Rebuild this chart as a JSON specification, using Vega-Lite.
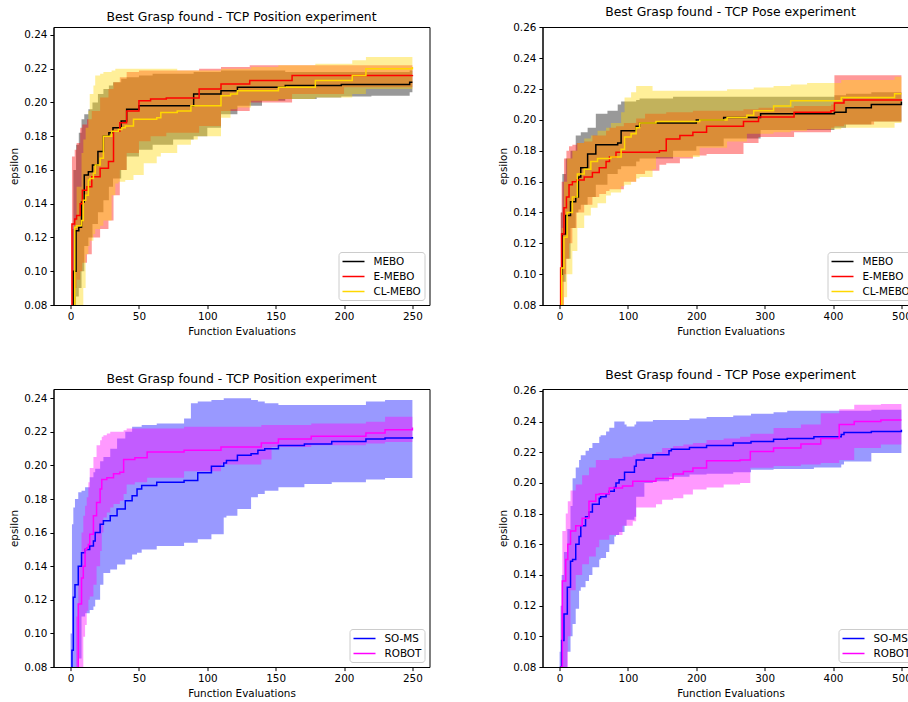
{
"$schema": "https://vega.github.io/schema/vega-lite/v6.json",
"background": "white",
"padding": {"left": 8.5, "top": 5, "right": 0, "bottom": 0},
"config": {
  "font": "DejaVu Sans",
  "view": {"stroke": "black", "strokeWidth": 1},
  "axis": {"labelFont": "DejaVu Sans", "titleFont": "DejaVu Sans", "labelFontSize": 10.4, "titleFontSize": 10.4, "titleFontWeight": "normal", "tickSize": 3.6, "labelPadding": 3, "titlePadding": 4, "domainColor": "black", "tickColor": "black", "labelColor": "black", "titleColor": "black", "grid": false},
  "title": {"font": "DejaVu Sans", "fontSize": 12.4, "fontWeight": "normal", "color": "black", "offset": 4, "frame": "group"},
  "legend": {"labelFont": "DejaVu Sans", "labelFontSize": 10.4, "labelColor": "black", "symbolType": "M-1,0H3", "symbolSize": 121, "symbolStrokeWidth": 1.5, "labelOffset": 19, "padding": 3, "rowPadding": 3, "strokeColor": "#cccccc", "fillColor": "rgba(255,255,255,0.8)", "cornerRadius": 3}
},
"datasets": {
"A": [
{"m":"MEBO","x":0,"y":0.04,"lo":0.02,"hi":0.07},{"m":"MEBO","x":1,"y":0.075,"lo":0.05,"hi":0.125},{"m":"MEBO","x":2,"y":0.10,"lo":0.075,"hi":0.16},{"m":"MEBO","x":4,"y":0.124,"lo":0.085,"hi":0.175},{"m":"MEBO","x":6,"y":0.126,"lo":0.09,"hi":0.182},{"m":"MEBO","x":8,"y":0.141,"lo":0.10,"hi":0.19},{"m":"MEBO","x":10,"y":0.157,"lo":0.115,"hi":0.193},{"m":"MEBO","x":13,"y":0.159,"lo":0.12,"hi":0.196},{"m":"MEBO","x":16,"y":0.163,"lo":0.128,"hi":0.20},{"m":"MEBO","x":20,"y":0.171,"lo":0.135,"hi":0.205},{"m":"MEBO","x":24,"y":0.180,"lo":0.142,"hi":0.208},{"m":"MEBO","x":28,"y":0.182,"lo":0.15,"hi":0.21},{"m":"MEBO","x":31,"y":0.185,"lo":0.155,"hi":0.212},{"m":"MEBO","x":37,"y":0.189,"lo":0.16,"hi":0.214},{"m":"MEBO","x":41,"y":0.196,"lo":0.168,"hi":0.215},{"m":"MEBO","x":50,"y":0.198,"lo":0.172,"hi":0.216},{"m":"MEBO","x":60,"y":0.198,"lo":0.175,"hi":0.217},{"m":"MEBO","x":75,"y":0.198,"lo":0.178,"hi":0.217},{"m":"MEBO","x":90,"y":0.205,"lo":0.18,"hi":0.218},{"m":"MEBO","x":100,"y":0.205,"lo":0.185,"hi":0.218},{"m":"MEBO","x":110,"y":0.207,"lo":0.193,"hi":0.219},{"m":"MEBO","x":122,"y":0.209,"lo":0.198,"hi":0.219},{"m":"MEBO","x":140,"y":0.209,"lo":0.201,"hi":0.219},{"m":"MEBO","x":157,"y":0.210,"lo":0.202,"hi":0.218},{"m":"MEBO","x":180,"y":0.210,"lo":0.203,"hi":0.218},{"m":"MEBO","x":198,"y":0.2106,"lo":0.2035,"hi":0.218},{"m":"MEBO","x":220,"y":0.2106,"lo":0.204,"hi":0.218},{"m":"MEBO","x":248,"y":0.212,"lo":0.206,"hi":0.219},{"m":"MEBO","x":250,"y":0.212,"lo":0.206,"hi":0.219},
{"m":"E-MEBO","x":0,"y":0.04,"lo":0.02,"hi":0.07},{"m":"E-MEBO","x":1,"y":0.128,"lo":0.08,"hi":0.168},{"m":"E-MEBO","x":3,"y":0.131,"lo":0.09,"hi":0.172},{"m":"E-MEBO","x":4.4,"y":0.133,"lo":0.095,"hi":0.176},{"m":"E-MEBO","x":7,"y":0.14,"lo":0.10,"hi":0.185},{"m":"E-MEBO","x":8.6,"y":0.148,"lo":0.105,"hi":0.187},{"m":"E-MEBO","x":12,"y":0.150,"lo":0.11,"hi":0.19},{"m":"E-MEBO","x":15.5,"y":0.156,"lo":0.12,"hi":0.195},{"m":"E-MEBO","x":21.6,"y":0.161,"lo":0.125,"hi":0.203},{"m":"E-MEBO","x":27.7,"y":0.165,"lo":0.13,"hi":0.208},{"m":"E-MEBO","x":31.4,"y":0.183,"lo":0.145,"hi":0.212},{"m":"E-MEBO","x":36,"y":0.188,"lo":0.16,"hi":0.215},{"m":"E-MEBO","x":41,"y":0.195,"lo":0.17,"hi":0.218},{"m":"E-MEBO","x":50,"y":0.201,"lo":0.177,"hi":0.219},{"m":"E-MEBO","x":58.5,"y":0.202,"lo":0.18,"hi":0.219},{"m":"E-MEBO","x":70,"y":0.2027,"lo":0.182,"hi":0.219},{"m":"E-MEBO","x":94,"y":0.208,"lo":0.186,"hi":0.220},{"m":"E-MEBO","x":110,"y":0.211,"lo":0.195,"hi":0.221},{"m":"E-MEBO","x":131,"y":0.213,"lo":0.20,"hi":0.222},{"m":"E-MEBO","x":162,"y":0.216,"lo":0.205,"hi":0.222},{"m":"E-MEBO","x":200,"y":0.216,"lo":0.209,"hi":0.222},{"m":"E-MEBO","x":250,"y":0.2163,"lo":0.21,"hi":0.222},
{"m":"CL-MEBO","x":0,"y":0.03,"lo":0.02,"hi":0.06},{"m":"CL-MEBO","x":2,"y":0.06,"lo":0.03,"hi":0.10},{"m":"CL-MEBO","x":3,"y":0.126,"lo":0.05,"hi":0.13},{"m":"CL-MEBO","x":4.4,"y":0.127,"lo":0.06,"hi":0.15},{"m":"CL-MEBO","x":8,"y":0.13,"lo":0.075,"hi":0.17},{"m":"CL-MEBO","x":9.3,"y":0.142,"lo":0.09,"hi":0.178},{"m":"CL-MEBO","x":11,"y":0.145,"lo":0.11,"hi":0.185},{"m":"CL-MEBO","x":13,"y":0.154,"lo":0.115,"hi":0.195},{"m":"CL-MEBO","x":14,"y":0.155,"lo":0.118,"hi":0.205},{"m":"CL-MEBO","x":16.7,"y":0.158,"lo":0.122,"hi":0.21},{"m":"CL-MEBO","x":18,"y":0.163,"lo":0.125,"hi":0.216},{"m":"CL-MEBO","x":21.6,"y":0.167,"lo":0.127,"hi":0.217},{"m":"CL-MEBO","x":24,"y":0.18,"lo":0.13,"hi":0.218},{"m":"CL-MEBO","x":30,"y":0.183,"lo":0.145,"hi":0.219},{"m":"CL-MEBO","x":32.7,"y":0.183,"lo":0.152,"hi":0.22},{"m":"CL-MEBO","x":35,"y":0.184,"lo":0.153,"hi":0.22},{"m":"CL-MEBO","x":37.5,"y":0.185,"lo":0.153,"hi":0.22},{"m":"CL-MEBO","x":40,"y":0.186,"lo":0.154,"hi":0.22},{"m":"CL-MEBO","x":46,"y":0.19,"lo":0.157,"hi":0.22},{"m":"CL-MEBO","x":53.5,"y":0.19,"lo":0.164,"hi":0.22},{"m":"CL-MEBO","x":63,"y":0.191,"lo":0.168,"hi":0.22},{"m":"CL-MEBO","x":66,"y":0.194,"lo":0.17,"hi":0.22},{"m":"CL-MEBO","x":78,"y":0.195,"lo":0.175,"hi":0.219},{"m":"CL-MEBO","x":88,"y":0.198,"lo":0.178,"hi":0.219},{"m":"CL-MEBO","x":93,"y":0.198,"lo":0.18,"hi":0.219},{"m":"CL-MEBO","x":110,"y":0.204,"lo":0.191,"hi":0.22},{"m":"CL-MEBO","x":117,"y":0.205,"lo":0.196,"hi":0.22},{"m":"CL-MEBO","x":122,"y":0.207,"lo":0.197,"hi":0.22},{"m":"CL-MEBO","x":132,"y":0.207,"lo":0.201,"hi":0.221},{"m":"CL-MEBO","x":152,"y":0.209,"lo":0.202,"hi":0.222},{"m":"CL-MEBO","x":179,"y":0.213,"lo":0.203,"hi":0.223},{"m":"CL-MEBO","x":206,"y":0.216,"lo":0.205,"hi":0.225},{"m":"CL-MEBO","x":216,"y":0.220,"lo":0.208,"hi":0.227},{"m":"CL-MEBO","x":250,"y":0.221,"lo":0.208,"hi":0.227}
],
"B": [
{"m":"MEBO","x":0,"y":0.05,"lo":0.03,"hi":0.08},{"m":"MEBO","x":2,"y":0.10,"lo":0.08,"hi":0.14},{"m":"MEBO","x":4,"y":0.126,"lo":0.095,"hi":0.165},{"m":"MEBO","x":9,"y":0.138,"lo":0.11,"hi":0.175},{"m":"MEBO","x":16,"y":0.147,"lo":0.13,"hi":0.18},{"m":"MEBO","x":23.6,"y":0.150,"lo":0.14,"hi":0.19},{"m":"MEBO","x":27.5,"y":0.163,"lo":0.142,"hi":0.19},{"m":"MEBO","x":31,"y":0.169,"lo":0.145,"hi":0.192},{"m":"MEBO","x":41,"y":0.178,"lo":0.15,"hi":0.195},{"m":"MEBO","x":53,"y":0.184,"lo":0.158,"hi":0.204},{"m":"MEBO","x":70,"y":0.184,"lo":0.165,"hi":0.206},{"m":"MEBO","x":85,"y":0.185,"lo":0.168,"hi":0.21},{"m":"MEBO","x":90,"y":0.193,"lo":0.17,"hi":0.212},{"m":"MEBO","x":112,"y":0.196,"lo":0.173,"hi":0.213},{"m":"MEBO","x":117,"y":0.198,"lo":0.175,"hi":0.214},{"m":"MEBO","x":166,"y":0.198,"lo":0.18,"hi":0.215},{"m":"MEBO","x":200,"y":0.200,"lo":0.183,"hi":0.215},{"m":"MEBO","x":240,"y":0.2016,"lo":0.188,"hi":0.215},{"m":"MEBO","x":294,"y":0.204,"lo":0.1935,"hi":0.215},{"m":"MEBO","x":402,"y":0.205,"lo":0.195,"hi":0.216},{"m":"MEBO","x":419,"y":0.208,"lo":0.197,"hi":0.217},{"m":"MEBO","x":456,"y":0.210,"lo":0.199,"hi":0.218},{"m":"MEBO","x":500,"y":0.212,"lo":0.20,"hi":0.22},
{"m":"E-MEBO","x":0,"y":0.05,"lo":0.03,"hi":0.08},{"m":"E-MEBO","x":1.5,"y":0.104,"lo":0.07,"hi":0.14},{"m":"E-MEBO","x":3,"y":0.126,"lo":0.08,"hi":0.16},{"m":"E-MEBO","x":6.4,"y":0.143,"lo":0.10,"hi":0.175},{"m":"E-MEBO","x":10,"y":0.15,"lo":0.11,"hi":0.18},{"m":"E-MEBO","x":13.8,"y":0.158,"lo":0.12,"hi":0.183},{"m":"E-MEBO","x":18.7,"y":0.160,"lo":0.13,"hi":0.184},{"m":"E-MEBO","x":25,"y":0.161,"lo":0.14,"hi":0.185},{"m":"E-MEBO","x":36,"y":0.163,"lo":0.145,"hi":0.186},{"m":"E-MEBO","x":48,"y":0.166,"lo":0.15,"hi":0.19},{"m":"E-MEBO","x":58,"y":0.169,"lo":0.152,"hi":0.19},{"m":"E-MEBO","x":68,"y":0.173,"lo":0.154,"hi":0.193},{"m":"E-MEBO","x":73,"y":0.176,"lo":0.155,"hi":0.195},{"m":"E-MEBO","x":82.5,"y":0.179,"lo":0.155,"hi":0.196},{"m":"E-MEBO","x":94,"y":0.179,"lo":0.16,"hi":0.198},{"m":"E-MEBO","x":112,"y":0.179,"lo":0.165,"hi":0.201},{"m":"E-MEBO","x":125,"y":0.179,"lo":0.167,"hi":0.204},{"m":"E-MEBO","x":146,"y":0.180,"lo":0.171,"hi":0.204},{"m":"E-MEBO","x":156,"y":0.1876,"lo":0.172,"hi":0.205},{"m":"E-MEBO","x":176,"y":0.19,"lo":0.175,"hi":0.205},{"m":"E-MEBO","x":195,"y":0.192,"lo":0.177,"hi":0.206},{"m":"E-MEBO","x":215,"y":0.196,"lo":0.178,"hi":0.206},{"m":"E-MEBO","x":269,"y":0.199,"lo":0.185,"hi":0.207},{"m":"E-MEBO","x":291,"y":0.202,"lo":0.189,"hi":0.208},{"m":"E-MEBO","x":343,"y":0.205,"lo":0.192,"hi":0.209},{"m":"E-MEBO","x":397,"y":0.206,"lo":0.195,"hi":0.21},{"m":"E-MEBO","x":402,"y":0.211,"lo":0.196,"hi":0.229},{"m":"E-MEBO","x":416,"y":0.213,"lo":0.197,"hi":0.229},{"m":"E-MEBO","x":460,"y":0.213,"lo":0.199,"hi":0.229},{"m":"E-MEBO","x":500,"y":0.2135,"lo":0.199,"hi":0.229},
{"m":"CL-MEBO","x":0,"y":0.04,"lo":0.02,"hi":0.07},{"m":"CL-MEBO","x":3,"y":0.104,"lo":0.07,"hi":0.13},{"m":"CL-MEBO","x":6.4,"y":0.124,"lo":0.085,"hi":0.16},{"m":"CL-MEBO","x":11,"y":0.14,"lo":0.10,"hi":0.175},{"m":"CL-MEBO","x":18.7,"y":0.15,"lo":0.115,"hi":0.18},{"m":"CL-MEBO","x":26,"y":0.165,"lo":0.13,"hi":0.185},{"m":"CL-MEBO","x":36,"y":0.168,"lo":0.138,"hi":0.188},{"m":"CL-MEBO","x":45.7,"y":0.173,"lo":0.143,"hi":0.19},{"m":"CL-MEBO","x":55.5,"y":0.175,"lo":0.146,"hi":0.193},{"m":"CL-MEBO","x":68,"y":0.175,"lo":0.151,"hi":0.195},{"m":"CL-MEBO","x":75,"y":0.176,"lo":0.153,"hi":0.198},{"m":"CL-MEBO","x":90,"y":0.181,"lo":0.157,"hi":0.205},{"m":"CL-MEBO","x":95,"y":0.189,"lo":0.158,"hi":0.2146},{"m":"CL-MEBO","x":104.6,"y":0.191,"lo":0.16,"hi":0.218},{"m":"CL-MEBO","x":112,"y":0.195,"lo":0.162,"hi":0.222},{"m":"CL-MEBO","x":117,"y":0.198,"lo":0.163,"hi":0.222},{"m":"CL-MEBO","x":136,"y":0.198,"lo":0.168,"hi":0.219},{"m":"CL-MEBO","x":141,"y":0.199,"lo":0.176,"hi":0.219},{"m":"CL-MEBO","x":205,"y":0.20,"lo":0.182,"hi":0.219},{"m":"CL-MEBO","x":245,"y":0.2016,"lo":0.186,"hi":0.22},{"m":"CL-MEBO","x":274,"y":0.203,"lo":0.191,"hi":0.22},{"m":"CL-MEBO","x":284,"y":0.206,"lo":0.191,"hi":0.221},{"m":"CL-MEBO","x":313,"y":0.209,"lo":0.192,"hi":0.222},{"m":"CL-MEBO","x":338,"y":0.2125,"lo":0.193,"hi":0.223},{"m":"CL-MEBO","x":362,"y":0.2125,"lo":0.194,"hi":0.224},{"m":"CL-MEBO","x":412,"y":0.2146,"lo":0.195,"hi":0.226},{"m":"CL-MEBO","x":490,"y":0.217,"lo":0.198,"hi":0.228},{"m":"CL-MEBO","x":500,"y":0.217,"lo":0.199,"hi":0.2286}
],
"C": [
{"m":"SO-MS","x":0,"y":0.04,"lo":0.02,"hi":0.10},{"m":"SO-MS","x":1,"y":0.09,"lo":0.04,"hi":0.165},{"m":"SO-MS","x":2,"y":0.1215,"lo":0.06,"hi":0.175},{"m":"SO-MS","x":3.2,"y":0.129,"lo":0.07,"hi":0.18},{"m":"SO-MS","x":5.6,"y":0.14,"lo":0.085,"hi":0.184},{"m":"SO-MS","x":8,"y":0.148,"lo":0.11,"hi":0.185},{"m":"SO-MS","x":10.6,"y":0.15,"lo":0.112,"hi":0.187},{"m":"SO-MS","x":14,"y":0.152,"lo":0.114,"hi":0.193},{"m":"SO-MS","x":16.7,"y":0.155,"lo":0.116,"hi":0.196},{"m":"SO-MS","x":18,"y":0.16,"lo":0.12,"hi":0.198},{"m":"SO-MS","x":21.6,"y":0.165,"lo":0.129,"hi":0.2025},{"m":"SO-MS","x":24,"y":0.167,"lo":0.136,"hi":0.205},{"m":"SO-MS","x":29,"y":0.17,"lo":0.138,"hi":0.21},{"m":"SO-MS","x":34,"y":0.174,"lo":0.141,"hi":0.216},{"m":"SO-MS","x":40,"y":0.179,"lo":0.144,"hi":0.22},{"m":"SO-MS","x":45,"y":0.182,"lo":0.147,"hi":0.223},{"m":"SO-MS","x":48.6,"y":0.186,"lo":0.148,"hi":0.223},{"m":"SO-MS","x":52,"y":0.188,"lo":0.15,"hi":0.224},{"m":"SO-MS","x":63,"y":0.19,"lo":0.152,"hi":0.225},{"m":"SO-MS","x":83,"y":0.191,"lo":0.154,"hi":0.228},{"m":"SO-MS","x":88,"y":0.191,"lo":0.154,"hi":0.237},{"m":"SO-MS","x":93,"y":0.1956,"lo":0.156,"hi":0.238},{"m":"SO-MS","x":103,"y":0.1995,"lo":0.159,"hi":0.239},{"m":"SO-MS","x":112,"y":0.2015,"lo":0.169,"hi":0.24},{"m":"SO-MS","x":114,"y":0.203,"lo":0.17,"hi":0.24},{"m":"SO-MS","x":122,"y":0.206,"lo":0.174,"hi":0.24},{"m":"SO-MS","x":132,"y":0.207,"lo":0.181,"hi":0.239},{"m":"SO-MS","x":137,"y":0.209,"lo":0.183,"hi":0.238},{"m":"SO-MS","x":142,"y":0.21,"lo":0.185,"hi":0.237},{"m":"SO-MS","x":152,"y":0.2118,"lo":0.187,"hi":0.236},{"m":"SO-MS","x":171,"y":0.2127,"lo":0.189,"hi":0.236},{"m":"SO-MS","x":191,"y":0.2143,"lo":0.19,"hi":0.236},{"m":"SO-MS","x":216,"y":0.2157,"lo":0.1916,"hi":0.238},{"m":"SO-MS","x":230,"y":0.2163,"lo":0.1925,"hi":0.239},{"m":"SO-MS","x":250,"y":0.2169,"lo":0.1946,"hi":0.24},
{"m":"ROBOT","x":0,"y":0.03,"lo":0.02,"hi":0.06},{"m":"ROBOT","x":4,"y":0.06,"lo":0.04,"hi":0.11},{"m":"ROBOT","x":5.6,"y":0.1175,"lo":0.06,"hi":0.14},{"m":"ROBOT","x":8,"y":0.133,"lo":0.08,"hi":0.16},{"m":"ROBOT","x":9.3,"y":0.14,"lo":0.098,"hi":0.17},{"m":"ROBOT","x":10.6,"y":0.15,"lo":0.105,"hi":0.176},{"m":"ROBOT","x":11.8,"y":0.151,"lo":0.1135,"hi":0.181},{"m":"ROBOT","x":13,"y":0.153,"lo":0.12,"hi":0.19},{"m":"ROBOT","x":14,"y":0.159,"lo":0.122,"hi":0.1985},{"m":"ROBOT","x":16.7,"y":0.17,"lo":0.129,"hi":0.205},{"m":"ROBOT","x":19,"y":0.178,"lo":0.14,"hi":0.212},{"m":"ROBOT","x":21.6,"y":0.186,"lo":0.149,"hi":0.215},{"m":"ROBOT","x":22.8,"y":0.1916,"lo":0.16,"hi":0.217},{"m":"ROBOT","x":24,"y":0.1916,"lo":0.169,"hi":0.218},{"m":"ROBOT","x":26.5,"y":0.1926,"lo":0.172,"hi":0.219},{"m":"ROBOT","x":29,"y":0.1926,"lo":0.175,"hi":0.22},{"m":"ROBOT","x":31.4,"y":0.195,"lo":0.177,"hi":0.22},{"m":"ROBOT","x":36,"y":0.196,"lo":0.179,"hi":0.22},{"m":"ROBOT","x":38.8,"y":0.2035,"lo":0.183,"hi":0.221},{"m":"ROBOT","x":41,"y":0.2035,"lo":0.1886,"hi":0.222},{"m":"ROBOT","x":47,"y":0.2045,"lo":0.19,"hi":0.222},{"m":"ROBOT","x":56,"y":0.208,"lo":0.1926,"hi":0.222},{"m":"ROBOT","x":83,"y":0.209,"lo":0.1966,"hi":0.223},{"m":"ROBOT","x":110,"y":0.211,"lo":0.2005,"hi":0.223},{"m":"ROBOT","x":139.5,"y":0.2133,"lo":0.2035,"hi":0.224},{"m":"ROBOT","x":147,"y":0.2133,"lo":0.211,"hi":0.224},{"m":"ROBOT","x":152,"y":0.2157,"lo":0.211,"hi":0.224},{"m":"ROBOT","x":176,"y":0.2173,"lo":0.212,"hi":0.225},{"m":"ROBOT","x":216,"y":0.2193,"lo":0.213,"hi":0.226},{"m":"ROBOT","x":230,"y":0.2212,"lo":0.214,"hi":0.229},{"m":"ROBOT","x":250,"y":0.2226,"lo":0.215,"hi":0.229}
],
"D": [
{"m":"SO-MS","x":0,"y":0.04,"lo":0.02,"hi":0.09},{"m":"SO-MS","x":1.5,"y":0.08,"lo":0.04,"hi":0.12},{"m":"SO-MS","x":3,"y":0.0973,"lo":0.06,"hi":0.14},{"m":"SO-MS","x":6.4,"y":0.1146,"lo":0.075,"hi":0.155},{"m":"SO-MS","x":11.3,"y":0.132,"lo":0.09,"hi":0.17},{"m":"SO-MS","x":16,"y":0.149,"lo":0.10,"hi":0.185},{"m":"SO-MS","x":19,"y":0.15,"lo":0.108,"hi":0.203},{"m":"SO-MS","x":23.6,"y":0.16,"lo":0.118,"hi":0.21},{"m":"SO-MS","x":28.5,"y":0.165,"lo":0.1297,"hi":0.215},{"m":"SO-MS","x":31,"y":0.172,"lo":0.132,"hi":0.218},{"m":"SO-MS","x":38,"y":0.178,"lo":0.136,"hi":0.221},{"m":"SO-MS","x":43,"y":0.181,"lo":0.14,"hi":0.2227},{"m":"SO-MS","x":48,"y":0.186,"lo":0.145,"hi":0.226},{"m":"SO-MS","x":58,"y":0.19,"lo":0.15,"hi":0.23},{"m":"SO-MS","x":60,"y":0.191,"lo":0.151,"hi":0.231},{"m":"SO-MS","x":68,"y":0.193,"lo":0.155,"hi":0.2335},{"m":"SO-MS","x":72.7,"y":0.1946,"lo":0.16,"hi":0.236},{"m":"SO-MS","x":80,"y":0.197,"lo":0.165,"hi":0.24},{"m":"SO-MS","x":82.5,"y":0.200,"lo":0.166,"hi":0.24},{"m":"SO-MS","x":87,"y":0.202,"lo":0.168,"hi":0.24},{"m":"SO-MS","x":95,"y":0.207,"lo":0.172,"hi":0.238},{"m":"SO-MS","x":98,"y":0.207,"lo":0.176,"hi":0.2367},{"m":"SO-MS","x":109.5,"y":0.2108,"lo":0.178,"hi":0.238},{"m":"SO-MS","x":112,"y":0.215,"lo":0.191,"hi":0.24},{"m":"SO-MS","x":124,"y":0.216,"lo":0.200,"hi":0.24},{"m":"SO-MS","x":136.5,"y":0.2184,"lo":0.201,"hi":0.241},{"m":"SO-MS","x":160,"y":0.221,"lo":0.204,"hi":0.241},{"m":"SO-MS","x":163.5,"y":0.222,"lo":0.204,"hi":0.241},{"m":"SO-MS","x":190,"y":0.223,"lo":0.2055,"hi":0.242},{"m":"SO-MS","x":215,"y":0.2244,"lo":0.206,"hi":0.243},{"m":"SO-MS","x":254,"y":0.226,"lo":0.207,"hi":0.244},{"m":"SO-MS","x":280,"y":0.227,"lo":0.2086,"hi":0.245},{"m":"SO-MS","x":313,"y":0.2285,"lo":0.209,"hi":0.246},{"m":"SO-MS","x":333,"y":0.229,"lo":0.209,"hi":0.247},{"m":"SO-MS","x":372,"y":0.23,"lo":0.21,"hi":0.247},{"m":"SO-MS","x":412,"y":0.2315,"lo":0.212,"hi":0.247},{"m":"SO-MS","x":416,"y":0.2328,"lo":0.214,"hi":0.247},{"m":"SO-MS","x":456,"y":0.2335,"lo":0.2195,"hi":0.2476},{"m":"SO-MS","x":500,"y":0.2346,"lo":0.2216,"hi":0.2476},
{"m":"ROBOT","x":0,"y":0.03,"lo":0.02,"hi":0.07},{"m":"ROBOT","x":2,"y":0.08,"lo":0.04,"hi":0.12},{"m":"ROBOT","x":4,"y":0.136,"lo":0.06,"hi":0.1686},{"m":"ROBOT","x":9,"y":0.15,"lo":0.08,"hi":0.18},{"m":"ROBOT","x":12,"y":0.16,"lo":0.10,"hi":0.188},{"m":"ROBOT","x":16,"y":0.1686,"lo":0.13,"hi":0.195},{"m":"ROBOT","x":23.6,"y":0.172,"lo":0.14,"hi":0.199},{"m":"ROBOT","x":33,"y":0.177,"lo":0.147,"hi":0.205},{"m":"ROBOT","x":43,"y":0.188,"lo":0.152,"hi":0.21},{"m":"ROBOT","x":53,"y":0.1924,"lo":0.158,"hi":0.215},{"m":"ROBOT","x":58,"y":0.193,"lo":0.163,"hi":0.215},{"m":"ROBOT","x":72.7,"y":0.1967,"lo":0.166,"hi":0.216},{"m":"ROBOT","x":92,"y":0.198,"lo":0.172,"hi":0.217},{"m":"ROBOT","x":107,"y":0.201,"lo":0.175,"hi":0.218},{"m":"ROBOT","x":112,"y":0.201,"lo":0.184,"hi":0.219},{"m":"ROBOT","x":141,"y":0.2028,"lo":0.186,"hi":0.22},{"m":"ROBOT","x":150,"y":0.2028,"lo":0.189,"hi":0.2227},{"m":"ROBOT","x":166,"y":0.2058,"lo":0.19,"hi":0.224},{"m":"ROBOT","x":181,"y":0.2075,"lo":0.1925,"hi":0.225},{"m":"ROBOT","x":195,"y":0.2097,"lo":0.1957,"hi":0.226},{"m":"ROBOT","x":215,"y":0.2145,"lo":0.197,"hi":0.228},{"m":"ROBOT","x":240,"y":0.2145,"lo":0.199,"hi":0.229},{"m":"ROBOT","x":264,"y":0.215,"lo":0.2,"hi":0.23},{"m":"ROBOT","x":279,"y":0.2205,"lo":0.2098,"hi":0.232},{"m":"ROBOT","x":313,"y":0.2227,"lo":0.211,"hi":0.2357},{"m":"ROBOT","x":353,"y":0.2253,"lo":0.212,"hi":0.238},{"m":"ROBOT","x":382,"y":0.229,"lo":0.213,"hi":0.2454},{"m":"ROBOT","x":409,"y":0.238,"lo":0.215,"hi":0.248},{"m":"ROBOT","x":431,"y":0.24,"lo":0.2227,"hi":0.251},{"m":"ROBOT","x":470,"y":0.241,"lo":0.225,"hi":0.2514},{"m":"ROBOT","x":500,"y":0.241,"lo":0.227,"hi":0.2514}
]
},
"columns": 2,
"spacing": {"row": 31, "column": 67},
"resolve": {"scale": {"x": "independent", "y": "independent", "color": "independent", "fill": "independent"}, "axis": {"x": "independent", "y": "independent"}, "legend": {"color": "independent", "fill": "independent"}},
"concat": [
{
 "width": 376, "height": 278,
 "title": "Best Grasp found - TCP Position experiment",
 "data": {"name": "A"},
 "encoding": {"x": {"field": "x", "type": "quantitative", "scale": {"domain": [-12.5, 262.5], "nice": false, "zero": false}, "axis": {"title": "Function Evaluations", "values": [0, 50, 100, 150, 200, 250]}}},
 "layer": [
  {"mark": {"type": "area", "interpolate": "step-after", "opacity": 0.4, "clip": true},
   "encoding": {"y": {"field": "lo", "type": "quantitative", "scale": {"domain": [0.08, 0.2447], "nice": false, "zero": false}, "axis": {"title": "epsilon", "values": [0.08, 0.10, 0.12, 0.14, 0.16, 0.18, 0.20, 0.22, 0.24], "format": ".2f"}}, "y2": {"field": "hi"},
    "fill": {"field": "m", "type": "nominal", "scale": {"domain": ["CL-MEBO", "E-MEBO", "MEBO"], "range": ["#ffd700", "#ff0000", "#000000"]}, "legend": null}}},
  {"mark": {"type": "line", "interpolate": "step-after", "strokeWidth": 1.5, "clip": true},
   "encoding": {"y": {"field": "y", "type": "quantitative", "axis": {"title": "epsilon", "values": [0.08, 0.10, 0.12, 0.14, 0.16, 0.18, 0.20, 0.22, 0.24], "format": ".2f"}},
    "color": {"field": "m", "type": "nominal", "scale": {"domain": ["MEBO", "E-MEBO", "CL-MEBO"], "range": ["#000000", "#ff0000", "#ffd700"]}, "legend": {"title": null, "orient": "bottom-right", "offset": 5}}}}
 ]
},
{
 "width": 376, "height": 278,
 "title": "Best Grasp found - TCP Pose experiment",
 "data": {"name": "B"},
 "encoding": {"x": {"field": "x", "type": "quantitative", "scale": {"domain": [-25, 525], "nice": false, "zero": false}, "axis": {"title": "Function Evaluations", "values": [0, 100, 200, 300, 400, 500]}}},
 "layer": [
  {"mark": {"type": "area", "interpolate": "step-after", "opacity": 0.4, "clip": true},
   "encoding": {"y": {"field": "lo", "type": "quantitative", "scale": {"domain": [0.08, 0.2603], "nice": false, "zero": false}, "axis": {"title": "epsilon", "values": [0.08, 0.10, 0.12, 0.14, 0.16, 0.18, 0.20, 0.22, 0.24, 0.26], "format": ".2f"}}, "y2": {"field": "hi"},
    "fill": {"field": "m", "type": "nominal", "scale": {"domain": ["CL-MEBO", "E-MEBO", "MEBO"], "range": ["#ffd700", "#ff0000", "#000000"]}, "legend": null}}},
  {"mark": {"type": "line", "interpolate": "step-after", "strokeWidth": 1.5, "clip": true},
   "encoding": {"y": {"field": "y", "type": "quantitative", "axis": {"title": "epsilon", "values": [0.08, 0.10, 0.12, 0.14, 0.16, 0.18, 0.20, 0.22, 0.24, 0.26], "format": ".2f"}},
    "color": {"field": "m", "type": "nominal", "scale": {"domain": ["MEBO", "E-MEBO", "CL-MEBO"], "range": ["#000000", "#ff0000", "#ffd700"]}, "legend": {"title": null, "orient": "bottom-right", "offset": 5}}}}
 ]
},
{
 "width": 376, "height": 278,
 "title": "Best Grasp found - TCP Position experiment",
 "data": {"name": "C"},
 "encoding": {"x": {"field": "x", "type": "quantitative", "scale": {"domain": [-12.5, 262.5], "nice": false, "zero": false}, "axis": {"title": "Function Evaluations", "values": [0, 50, 100, 150, 200, 250]}}},
 "layer": [
  {"mark": {"type": "area", "interpolate": "step-after", "opacity": 0.4, "clip": true},
   "encoding": {"y": {"field": "lo", "type": "quantitative", "scale": {"domain": [0.08, 0.2455], "nice": false, "zero": false}, "axis": {"title": "epsilon", "values": [0.08, 0.10, 0.12, 0.14, 0.16, 0.18, 0.20, 0.22, 0.24], "format": ".2f"}}, "y2": {"field": "hi"},
    "fill": {"field": "m", "type": "nominal", "scale": {"domain": ["ROBOT", "SO-MS"], "range": ["#ff00ff", "#0000ff"]}, "legend": null}}},
  {"mark": {"type": "line", "interpolate": "step-after", "strokeWidth": 1.5, "clip": true},
   "encoding": {"y": {"field": "y", "type": "quantitative", "axis": {"title": "epsilon", "values": [0.08, 0.10, 0.12, 0.14, 0.16, 0.18, 0.20, 0.22, 0.24], "format": ".2f"}},
    "color": {"field": "m", "type": "nominal", "scale": {"domain": ["SO-MS", "ROBOT"], "range": ["#0000ff", "#ff00ff"]}, "legend": {"title": null, "orient": "bottom-right", "offset": 5}}}}
 ]
},
{
 "width": 376, "height": 278,
 "title": "Best Grasp found - TCP Pose experiment",
 "data": {"name": "D"},
 "encoding": {"x": {"field": "x", "type": "quantitative", "scale": {"domain": [-25, 525], "nice": false, "zero": false}, "axis": {"title": "Function Evaluations", "values": [0, 100, 200, 300, 400, 500]}}},
 "layer": [
  {"mark": {"type": "area", "interpolate": "step-after", "opacity": 0.4, "clip": true},
   "encoding": {"y": {"field": "lo", "type": "quantitative", "scale": {"domain": [0.08, 0.2612], "nice": false, "zero": false}, "axis": {"title": "epsilon", "values": [0.08, 0.10, 0.12, 0.14, 0.16, 0.18, 0.20, 0.22, 0.24, 0.26], "format": ".2f"}}, "y2": {"field": "hi"},
    "fill": {"field": "m", "type": "nominal", "scale": {"domain": ["ROBOT", "SO-MS"], "range": ["#ff00ff", "#0000ff"]}, "legend": null}}},
  {"mark": {"type": "line", "interpolate": "step-after", "strokeWidth": 1.5, "clip": true},
   "encoding": {"y": {"field": "y", "type": "quantitative", "axis": {"title": "epsilon", "values": [0.08, 0.10, 0.12, 0.14, 0.16, 0.18, 0.20, 0.22, 0.24, 0.26], "format": ".2f"}},
    "color": {"field": "m", "type": "nominal", "scale": {"domain": ["SO-MS", "ROBOT"], "range": ["#0000ff", "#ff00ff"]}, "legend": {"title": null, "orient": "bottom-right", "offset": 5}}}}
 ]
}
]
}
